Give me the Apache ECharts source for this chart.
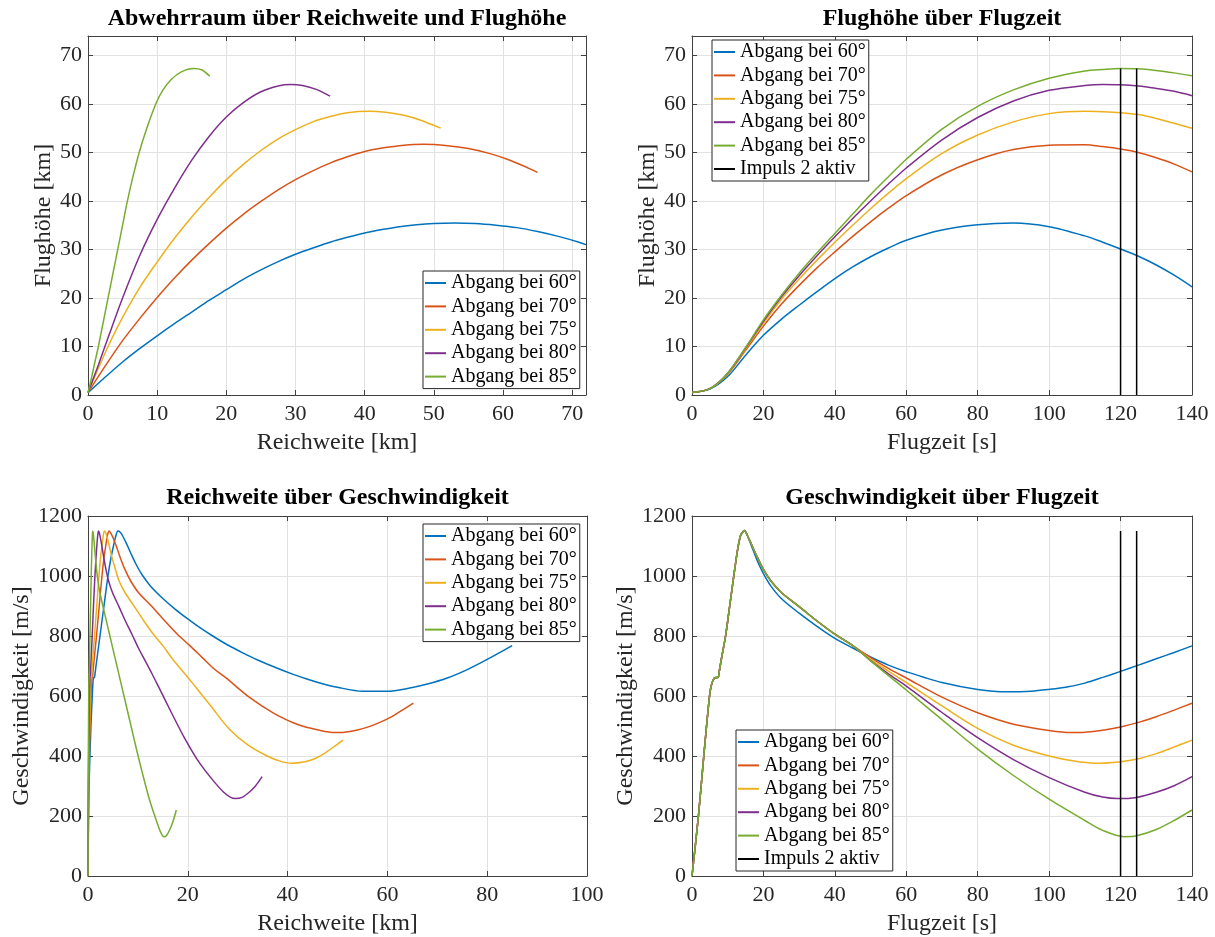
<!DOCTYPE html>
<html><head><meta charset="utf-8">
<script src="https://cdn.jsdelivr.net/npm/echarts@6/dist/echarts.min.js"></script>
<style>html,body{margin:0;padding:0;background:#fff}#c{width:1215px;height:937px}</style>
</head><body><div id="c"></div>
<script>
// ---------- labels ----------
const seriesNames = ['Abgang bei 60°','Abgang bei 70°','Abgang bei 75°','Abgang bei 80°','Abgang bei 85°'];
const impulsName = 'Impuls 2 aktiv';
const titles = ['Abwehrraum über Reichweite und Flughöhe','Flughöhe über Flugzeit','Reichweite über Geschwindigkeit','Geschwindigkeit über Flugzeit'];
const xNames = ['Reichweite [km]','Flugzeit [s]','Reichweite [km]','Flugzeit [s]'];
const yNames = ['Flughöhe [km]','Flughöhe [km]','Geschwindigkeit [m/s]','Geschwindigkeit [m/s]'];

// ---------- top-left: range [km] vs altitude [km] ----------
const tl60 = [[0,0.5],[2.5,3.7],[5,6.8],[7.5,9.6],[10,12.2],[12.5,14.7],[15,17.1],[17.5,19.5],[20,21.7],[22.5,23.9],[25,25.8],[27.5,27.5],[30,29.0],[32.5,30.3],[35,31.5],[37.5,32.5],[40,33.4],[42.5,34.1],[45,34.7],[47.5,35.1],[50,35.35],[53,35.45],[56,35.35],[59,35.0],[62,34.5],[65,33.7],[68,32.7],[71,31.5],[72,31.0]];
const tl70 = [[0,0.5],[2.5,6.0],[5,11.2],[7.5,15.8],[10,20.1],[12.5,24.1],[15,27.8],[17.5,31.2],[20,34.4],[22.5,37.3],[25,39.9],[27.5,42.3],[30,44.4],[32.5,46.2],[35,47.8],[37.5,49.1],[40,50.2],[42.5,50.9],[45,51.4],[48.5,51.7],[52,51.4],[55,50.8],[58,49.8],[61,48.4],[65,45.9]];
const tl75 = [[0,0.5],[1.5,5.5],[3,10.3],[5,16.0],[7.5,22.2],[10,27.4],[12.5,32.3],[15,36.7],[17.5,40.7],[20,44.4],[22.5,47.6],[25,50.4],[27.5,52.8],[30,54.7],[32.5,56.3],[35,57.4],[37.5,58.2],[40.7,58.5],[43,58.3],[45.5,57.7],[48,56.7],[51,55.0]];
const tl80 = [[0,0.5],[1.5,6.2],[3,12.2],[5,20.0],[7.5,28.8],[10,36.2],[12.5,42.6],[15,48.4],[17.5,53.3],[20,57.3],[22.5,60.3],[25,62.5],[27.5,63.7],[29.3,64.0],[31,63.8],[33,63.0],[35,61.6]];
const tl85 = [[0,0.5],[0.5,3.5],[1,6.8],[1.5,10],[2.2,15],[2.9,20],[3.6,25],[4.3,30],[5,35],[5.7,40],[6.5,45],[7.4,50],[8.5,55],[9.8,60],[10.8,62.8],[12,65],[13.5,66.6],[15.3,67.3],[16.5,67.0],[17.6,65.7]];

// ---------- top-right: flight time [s] vs altitude [km] ----------
const tAlt  = [0,5,10,15,20,25,30,35,40,45,50,55,60,70,80,90,100,110,115,120,125,130,135,140];
const alt60 = [0.5,1.2,3.8,8.2,12.3,15.6,18.5,21.3,24.0,26.4,28.5,30.3,31.9,34.0,35.1,35.45,34.7,32.8,31.5,30.1,28.6,26.8,24.7,22.3];
const alt70 = [0.5,1.3,4.3,9.2,14.2,18.7,22.6,26.2,29.5,32.7,35.7,38.5,41.1,45.4,48.5,50.6,51.5,51.6,51.2,50.7,50.0,48.9,47.6,46.0];
const alt75 = [0.5,1.3,4.4,9.5,14.8,19.7,23.9,27.8,31.5,35.0,38.4,41.6,44.6,49.8,53.6,56.3,58.0,58.5,58.4,58.2,57.8,57.0,56.0,55.0];
const alt80 = [0.5,1.3,4.5,9.7,15.2,20.2,24.6,28.7,32.6,36.4,40.0,43.5,46.8,52.6,57.2,60.6,62.8,63.8,64.0,63.95,63.7,63.2,62.6,61.7];
const alt85 = [0.5,1.3,4.5,9.8,15.5,20.5,25.1,29.3,33.3,37.3,41.3,45.0,48.6,54.8,59.5,62.9,65.3,66.8,67.1,67.3,67.25,66.9,66.4,65.8];

// impulse 2 markers
const impulsT = [120, 124.5];
const impulsAltTop = 67.3;
const impulsSpeedTop = 1150;

// ---------- bottom-left: range [km] vs speed [m/s] ----------
const bl60 = [[0,0],[0.05,100],[0.21,300],[0.59,500],[0.86,600],[1.0,648],[1.1,660],[1.3,662],[1.6,700],[2.4,800],[3.2,900],[4.0,1000],[4.6,1060],[5.1,1100],[5.6,1135],[6.0,1150],[6.6,1143],[7.6,1112],[8.6,1075],[9.6,1040],[10.8,1005],[12.5,967],[15,925],[17.5,889],[20,857],[22.5,827],[25,800],[28,770],[31,744],[34,720],[37.7,694],[41,673],[44,656],[47,641],[50,629],[55,616],[60,616],[64,625],[68,640],[72,660],[76,688],[80,722],[85,768]];
const bl70 = [[0,0],[0.035,100],[0.15,300],[0.41,500],[0.6,600],[0.7,648],[0.77,660],[0.9,662],[1.1,700],[1.7,800],[2.25,900],[2.8,1000],[3.2,1060],[3.55,1100],[3.9,1135],[4.2,1150],[4.6,1142],[5.4,1112],[6.45,1062],[7.4,1022],[8.5,985],[10.1,945],[12.8,898],[15.4,850],[17.9,806],[20.4,768],[22.9,728],[25.3,690],[27.6,661],[32.3,596],[37.1,544],[41.9,506],[46.6,485],[49.5,478],[51.4,479],[53.8,486],[56.2,497],[58.5,512],[60.9,531],[63.0,553],[65.2,576]];
const bl75 = [[0,0],[0.027,100],[0.11,300],[0.32,500],[0.46,600],[0.54,648],[0.6,660],[0.7,662],[0.85,700],[1.3,800],[1.75,900],[2.2,1000],[2.5,1060],[2.8,1100],[3.05,1135],[3.3,1150],[3.6,1142],[4.1,1112],[4.8,1062],[5.5,1022],[6.2,985],[7.4,945],[9.3,898],[11.2,850],[13.1,806],[15.0,768],[16.9,724],[18.8,686],[20.7,648],[24.5,569],[28.3,490],[32.1,436],[35.9,400],[38.5,383],[40.8,376],[43.5,381],[45.4,391],[47.3,408],[49.2,430],[51.1,453]];
const bl80 = [[0,0],[0.018,100],[0.074,300],[0.21,500],[0.3,600],[0.35,648],[0.39,660],[0.45,662],[0.55,700],[0.84,800],[1.1,900],[1.39,1000],[1.6,1060],[1.77,1100],[1.95,1135],[2.1,1150],[2.3,1142],[2.65,1112],[3.15,1062],[3.6,1022],[4.1,985],[4.9,945],[6.2,898],[7.5,850],[8.8,806],[10.1,760],[11.5,716],[12.8,675],[14.1,632],[16.7,545],[19.3,461],[21.9,388],[24.6,328],[27.2,279],[28.5,263],[29.5,258],[30.9,262],[32.3,279],[33.6,301],[34.9,331]];
const bl85 = [[0,0],[0.01,100],[0.036,300],[0.1,500],[0.146,600],[0.17,648],[0.19,660],[0.22,662],[0.27,700],[0.39,800],[0.52,900],[0.64,1000],[0.73,1060],[0.8,1100],[0.88,1135],[0.95,1150],[1.05,1142],[1.23,1112],[1.49,1062],[1.71,1022],[1.98,985],[2.38,945],[3.05,895],[3.72,848],[4.39,800],[5.06,752],[5.73,705],[6.4,657],[7.07,610],[8.41,515],[9.75,420],[11.1,330],[12.4,250],[13.8,180],[14.4,152],[15.2,131],[15.7,134],[16.4,155],[17.1,185],[17.7,220]];

// ---------- bottom-right: flight time [s] vs speed [m/s] ----------
const brBoost = [[0,0],[1.8,200],[3.3,400],[4.9,600],[5.4,635],[6.0,655],[6.4,661],[7.3,662],[7.6,680],[8.4,735],[9.4,800],[10.5,895],[11.7,1000],[12.8,1090],[13.6,1135],[14.3,1148],[14.7,1152],[15.3,1140]];
const brCoast60 = [[16.4,1108],[18.3,1050],[20,1008],[22,968],[25,925],[30,876],[35,832],[40,792],[45,760],[50,730],[55,703],[60,681],[70,645],[80,622],[88,614],[95,616],[100,622],[105,630],[110,643],[115,662],[120,682],[125,703],[130,724],[135,745],[140,767]];
const brCoastShared = [[16.4,1112],[18.3,1062],[20,1022],[22,985],[25,945],[30,898],[35,850],[40,806],[45,768]];
const brTail70 = [[50,728],[55,692],[60,660],[70,596],[80,544],[90,506],[100,485],[106,478],[110,479],[115,486],[120,497],[125,512],[130,531],[135,553],[140,576]];
const brTail75 = [[50,722],[55,683],[60,645],[70,567],[80,492],[90,436],[100,400],[107,383],[113,376],[120,381],[125,391],[130,408],[135,430],[140,453]];
const brTail80 = [[50,718],[55,674],[60,633],[70,545],[80,461],[90,388],[100,328],[110,279],[115,263],[119,258],[124.5,262],[130,279],[135,301],[140,331]];
const brTail85 = [[50,717],[55,668],[60,620],[70,521],[80,423],[90,335],[100,256],[110,185],[115,152],[121,131],[124.5,134],[130,155],[135,185],[140,220]];

// ---------- tick settings ----------
const xTicks = [{min:0,max:72,interval:10},{min:0,max:140,interval:20},{min:0,max:100,interval:20},{min:0,max:140,interval:20}];
const yTicks = [{min:0,max:74,interval:10},{min:0,max:74,interval:10},{min:0,max:1200,interval:200},{min:0,max:1200,interval:200}];

// ---------- styling / layout ----------
const FONT = '"Liberation Serif", "Times New Roman", serif';
const colors = ['#0072BD','#D95319','#EDB120','#7E2F8E','#77AC30'];
const AX = '#404040';
const GRIDC = '#e2e2e2';
const grids = [
  {left:88, top:36, width:498, height:359},
  {left:692, top:36, width:500, height:359},
  {left:88, top:516, width:499, height:360},
  {left:692, top:516, width:500, height:360}
];
const yNameGap = [30, 30, 50, 50];

const zip = (xs, ys) => xs.map((x, i) => [x, ys[i]]);

const xAxes = [], yAxes = [];
grids.forEach((g, i) => {
  const xt = xTicks[i], yt = yTicks[i];
  xAxes.push({
    type:'value', gridIndex:i, position:'bottom', min:xt.min, max:xt.max, interval:xt.interval,
    name:xNames[i], nameLocation:'middle', nameGap:36,
    nameTextStyle:{fontFamily:FONT, fontSize:24, color:'#262626'},
    axisLine:{show:true, onZero:false, lineStyle:{color:AX, width:1}},
    axisTick:{show:true, inside:true, length:5, lineStyle:{color:AX}},
    axisLabel:{show:true, margin:8, fontFamily:FONT, fontSize:22, color:'#262626',
      formatter: v => (v % xt.interval === 0 ? String(v) : '')},
    splitLine:{show:true, lineStyle:{color:GRIDC, width:1}}
  });
  yAxes.push({
    type:'value', gridIndex:i, position:'left', min:yt.min, max:yt.max, interval:yt.interval,
    name:yNames[i], nameLocation:'middle', nameGap:yNameGap[i],
    nameTextStyle:{fontFamily:FONT, fontSize:24, color:'#262626'},
    axisLine:{show:true, onZero:false, lineStyle:{color:AX, width:1}},
    axisTick:{show:true, inside:true, length:5, lineStyle:{color:AX}},
    axisLabel:{show:true, margin:6, fontFamily:FONT, fontSize:22, color:'#262626',
      formatter: v => (v % yt.interval === 0 ? String(v) : '')},
    splitLine:{show:true, lineStyle:{color:GRIDC, width:1}}
  });
});
grids.forEach((g, i) => {
  const xt = xTicks[i], yt = yTicks[i];
  xAxes.push({
    type:'value', gridIndex:i, position:'top', min:xt.min, max:xt.max, interval:xt.interval,
    axisLine:{show:true, onZero:false, lineStyle:{color:AX, width:1}},
    axisTick:{show:true, inside:true, length:5, lineStyle:{color:AX}},
    axisLabel:{show:false}, splitLine:{show:false}
  });
  yAxes.push({
    type:'value', gridIndex:i, position:'right', min:yt.min, max:yt.max, interval:yt.interval,
    axisLine:{show:true, onZero:false, lineStyle:{color:AX, width:1}},
    axisTick:{show:true, inside:true, length:5, lineStyle:{color:AX}},
    axisLabel:{show:false}, splitLine:{show:false}
  });
});

function line(name, color, data, gi) {
  return {
    type:'line', name, data, xAxisIndex:gi, yAxisIndex:gi,
    symbol:'none', showSymbol:false, smooth:0.3,
    lineStyle:{color, width:1.5}, itemStyle:{color}, clip:true, silent:true,
    emphasis:{disabled:true}
  };
}

const series = [];
[tl60, tl70, tl75, tl80, tl85].forEach((d, k) => series.push(line(seriesNames[k], colors[k], d, 0)));
[alt60, alt70, alt75, alt80, alt85].forEach((d, k) => series.push(line(seriesNames[k], colors[k], zip(tAlt, d), 1)));
impulsT.forEach(t => {
  const s = line(impulsName, '#000000', [[t, 0], [t, impulsAltTop]], 1); s.smooth = false; series.push(s);
});
[bl60, bl70, bl75, bl80, bl85].forEach((d, k) => series.push(line(seriesNames[k], colors[k], d, 2)));
const brData = [
  brBoost.concat(brCoast60),
  brBoost.concat(brCoastShared, brTail70),
  brBoost.concat(brCoastShared, brTail75),
  brBoost.concat(brCoastShared, brTail80),
  brBoost.concat(brCoastShared, brTail85)
];
brData.forEach((d, k) => series.push(line(seriesNames[k], colors[k], d, 3)));
impulsT.forEach(t => {
  const s = line(impulsName, '#000000', [[t, 0], [t, impulsSpeedTop]], 3); s.smooth = false; series.push(s);
});

function legend(left, top, data) {
  return {
    show:true, orient:'vertical', left, top, data,
    icon:'rect',
    backgroundColor:'#ffffff', borderColor:'#262626', borderWidth:1,
    padding:[2,3,2,2], itemWidth:21, itemHeight:2, itemGap:3.4,
    selectedMode:false,
    textStyle:{fontFamily:FONT, fontSize:20, color:'#000000', lineHeight:20}
  };
}
const withImpuls = seriesNames.concat([impulsName]);

const titleCenters = [[337,19],[942,19],[337.5,498],[942,498]];
const graphic = titles.map((t, i) => ({
  type:'text', x:titleCenters[i][0], y:titleCenters[i][1], silent:true,
  style:{text:t, font:'bold 24px ' + FONT, fill:'#000000', align:'center', verticalAlign:'middle',
         textAlign:'center', textVerticalAlign:'middle'}
}));

const chart = echarts.init(document.getElementById('c'), null, {renderer:'canvas'});
chart.setOption({
  animation:false,
  backgroundColor:'#ffffff',
  grid: grids.map(g => Object.assign({containLabel:false}, g)),
  xAxis: xAxes,
  yAxis: yAxes,
  legend: [
    legend(423, 271, seriesNames),
    legend(712, 40, withImpuls),
    legend(423, 524, seriesNames),
    legend(736, 730, withImpuls)
  ],
  graphic,
  series
});
</script></body></html>
